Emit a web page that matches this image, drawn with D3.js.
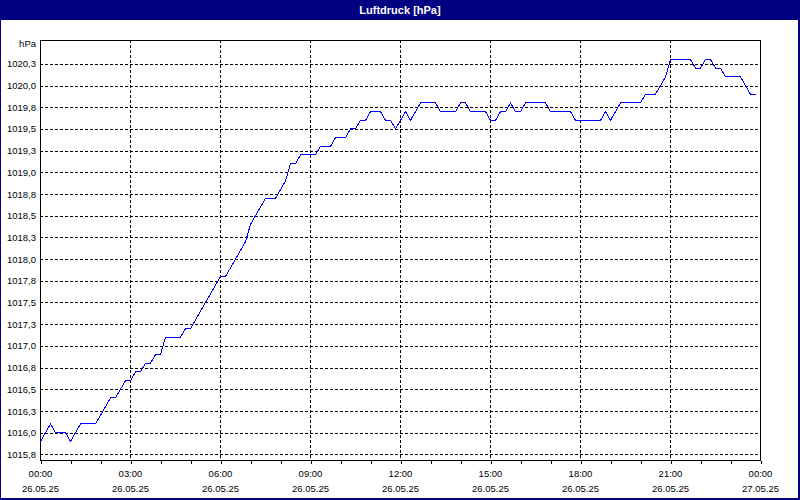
<!DOCTYPE html>
<html>
<head>
<meta charset="utf-8">
<script src="https://cdn.jsdelivr.net/npm/d3@7"></script>
<style>
  html, body { margin: 0; padding: 0; background: #fff; }
  svg { display: block; }
  .tick text { font-family: "Liberation Sans", Arial, sans-serif; fill: #000; }
</style>
</head>
<body>
<svg id="chart" width="800" height="500"></svg>
<script>
// Luftdruck, 10-Minuten-Werte vom 26.05.25 00:00 bis 23:50
const startTime = new Date(2025, 4, 26, 0, 0);
const endTime = new Date(2025, 4, 27, 0, 0);
const stepMinutes = 10;

const pressure = [
  1015.9, 1016.0, 1016.1, 1016.0, 1016.0, 1016.0, 1015.9, 1016.0, 1016.1, 1016.1, 1016.1, 1016.1,
  1016.2, 1016.3, 1016.4, 1016.4, 1016.5, 1016.6, 1016.6, 1016.7, 1016.7, 1016.8, 1016.8, 1016.9,
  1016.9, 1017.1, 1017.1, 1017.1, 1017.1, 1017.2, 1017.2, 1017.3, 1017.4, 1017.5, 1017.6, 1017.7,
  1017.8, 1017.8, 1017.9, 1018.0, 1018.1, 1018.2, 1018.4, 1018.5, 1018.6, 1018.7, 1018.7, 1018.7,
  1018.8, 1018.9, 1019.1, 1019.1, 1019.2, 1019.2, 1019.2, 1019.2, 1019.3, 1019.3, 1019.3, 1019.4,
  1019.4, 1019.4, 1019.5, 1019.5, 1019.6, 1019.6, 1019.7, 1019.7, 1019.7, 1019.6, 1019.6, 1019.5,
  1019.6, 1019.7, 1019.6, 1019.7, 1019.8, 1019.8, 1019.8, 1019.8, 1019.7, 1019.7, 1019.7, 1019.7,
  1019.8, 1019.8, 1019.7, 1019.7, 1019.7, 1019.7, 1019.6, 1019.6, 1019.7, 1019.7, 1019.8, 1019.7,
  1019.7, 1019.8, 1019.8, 1019.8, 1019.8, 1019.8, 1019.7, 1019.7, 1019.7, 1019.7, 1019.7, 1019.6,
  1019.6, 1019.6, 1019.6, 1019.6, 1019.6, 1019.7, 1019.6, 1019.7, 1019.8, 1019.8, 1019.8, 1019.8,
  1019.8, 1019.9, 1019.9, 1019.9, 1020.0, 1020.1, 1020.3, 1020.3, 1020.3, 1020.3, 1020.3, 1020.2,
  1020.2, 1020.3, 1020.3, 1020.2, 1020.2, 1020.1, 1020.1, 1020.1, 1020.1, 1020.0, 1019.9, 1019.9
];

const yTicks = [
  1015.75, 1016.0, 1016.25, 1016.5, 1016.75, 1017.0, 1017.25, 1017.5, 1017.75, 1018.0,
  1018.25, 1018.5, 1018.75, 1019.0, 1019.25, 1019.5, 1019.75, 1020.0, 1020.25
];
const yDomain = [1015.685, 1020.525];

const xTickTimes = ['00:00', '03:00', '06:00', '09:00', '12:00', '15:00', '18:00', '21:00', '00:00'];
const xTickDates = ['26.05.25', '26.05.25', '26.05.25', '26.05.25', '26.05.25', '26.05.25', '26.05.25', '26.05.25', '27.05.25'];

const data = pressure.map((v, i) => ({
  t: d3.timeMinute.offset(startTime, i * stepMinutes),
  v
}));

const W = 800, H = 500;
const plot = { left: 40, right: 760, top: 40, bottom: 460 };
const navy = '#000080';

const svg = d3.select('#chart');

const x = d3.scaleTime()
  .domain([startTime, endTime])
  .range([plot.left, plot.right]);

const y = d3.scaleLinear()
  .domain(yDomain)
  .range([plot.bottom, plot.top]);

const px = v => Math.round(v) + 0.5;

svg.append('rect')
  .attr('width', W).attr('height', H)
  .attr('fill', '#fff');

// title bar
svg.append('rect')
  .attr('width', W).attr('height', 20)
  .attr('fill', navy);

svg.append('text')
  .attr('x', W / 2)
  .attr('y', 14)
  .attr('text-anchor', 'middle')
  .attr('font-family', '"Liberation Sans", Arial, sans-serif')
  .attr('font-size', 11)
  .attr('font-weight', 'bold')
  .attr('fill', '#fff')
  .text('Luftdruck [hPa]');

// window border
svg.append('rect').attr('x', 0).attr('y', 20).attr('width', 1).attr('height', H - 20).attr('fill', navy);
svg.append('rect').attr('x', W - 2).attr('y', 20).attr('width', 2).attr('height', H - 20).attr('fill', navy);
svg.append('rect').attr('x', 0).attr('y', H - 2).attr('width', W).attr('height', 2).attr('fill', navy);

// horizontal grid
svg.append('g')
  .attr('stroke', '#000')
  .attr('stroke-dasharray', '3,2')
  .attr('shape-rendering', 'crispEdges')
  .selectAll('line')
  .data(yTicks)
  .enter().append('line')
  .attr('x1', plot.left)
  .attr('x2', plot.right)
  .attr('y1', d => px(y(d)))
  .attr('y2', d => px(y(d)));

// vertical grid, every 3 hours
const majorTimes = d3.timeHour.every(3).range(startTime, d3.timeMinute.offset(endTime, 1));

svg.append('g')
  .attr('stroke', '#000')
  .attr('stroke-dasharray', '3,2')
  .attr('shape-rendering', 'crispEdges')
  .selectAll('line')
  .data(majorTimes.slice(1, -1))
  .enter().append('line')
  .attr('x1', d => px(x(d)))
  .attr('x2', d => px(x(d)))
  .attr('y1', plot.top)
  .attr('y2', plot.bottom);

// hourly minor ticks below the frame
svg.append('g')
  .attr('transform', `translate(0.5,${plot.bottom + 0.5})`)
  .attr('shape-rendering', 'crispEdges')
  .call(d3.axisBottom(x)
    .ticks(d3.timeHour.every(1))
    .tickSize(3)
    .tickFormat(''))
  .call(g => g.select('.domain').remove());

// x labels: time line and date line
svg.append('g')
  .attr('transform', `translate(0,${plot.bottom})`)
  .call(d3.axisBottom(x)
    .tickValues(majorTimes)
    .tickSize(0)
    .tickPadding(10)
    .tickFormat((d, i) => xTickTimes[i]))
  .call(g => g.select('.domain').remove())
  .selectAll('text').attr('font-size', 9.5);

svg.append('g')
  .attr('transform', `translate(0,${plot.bottom})`)
  .call(d3.axisBottom(x)
    .tickValues(majorTimes)
    .tickSize(0)
    .tickPadding(25)
    .tickFormat((d, i) => xTickDates[i]))
  .call(g => g.select('.domain').remove())
  .selectAll('text').attr('font-size', 9.5);

// y labels
svg.append('g')
  .attr('transform', `translate(${plot.left},0)`)
  .call(d3.axisLeft(y)
    .tickValues(yTicks)
    .tickSize(0)
    .tickPadding(4)
    .tickFormat(d => d3.format('.1f')(d).replace('.', ',')))
  .call(g => g.select('.domain').remove())
  .selectAll('text').attr('font-size', 9.5);

svg.append('text')
  .attr('x', plot.left - 4)
  .attr('y', 47)
  .attr('text-anchor', 'end')
  .attr('font-family', '"Liberation Sans", Arial, sans-serif')
  .attr('font-size', 9.5)
  .attr('fill', '#000')
  .text('hPa');

// plot frame
svg.append('rect')
  .attr('x', plot.left + 0.5)
  .attr('y', plot.top + 0.5)
  .attr('width', plot.right - plot.left)
  .attr('height', plot.bottom - plot.top)
  .attr('fill', 'none')
  .attr('stroke', '#000')
  .attr('shape-rendering', 'crispEdges');

// pressure line, drawn aliased like the original
const line = d3.line()
  .x(d => x(d.t) + 0.5)
  .y(d => y(d.v));

svg.append('path')
  .datum(data)
  .attr('fill', 'none')
  .attr('stroke', '#0000ff')
  .attr('stroke-width', 1)
  .attr('shape-rendering', 'crispEdges')
  .attr('d', line);
</script>
</body>
</html>
